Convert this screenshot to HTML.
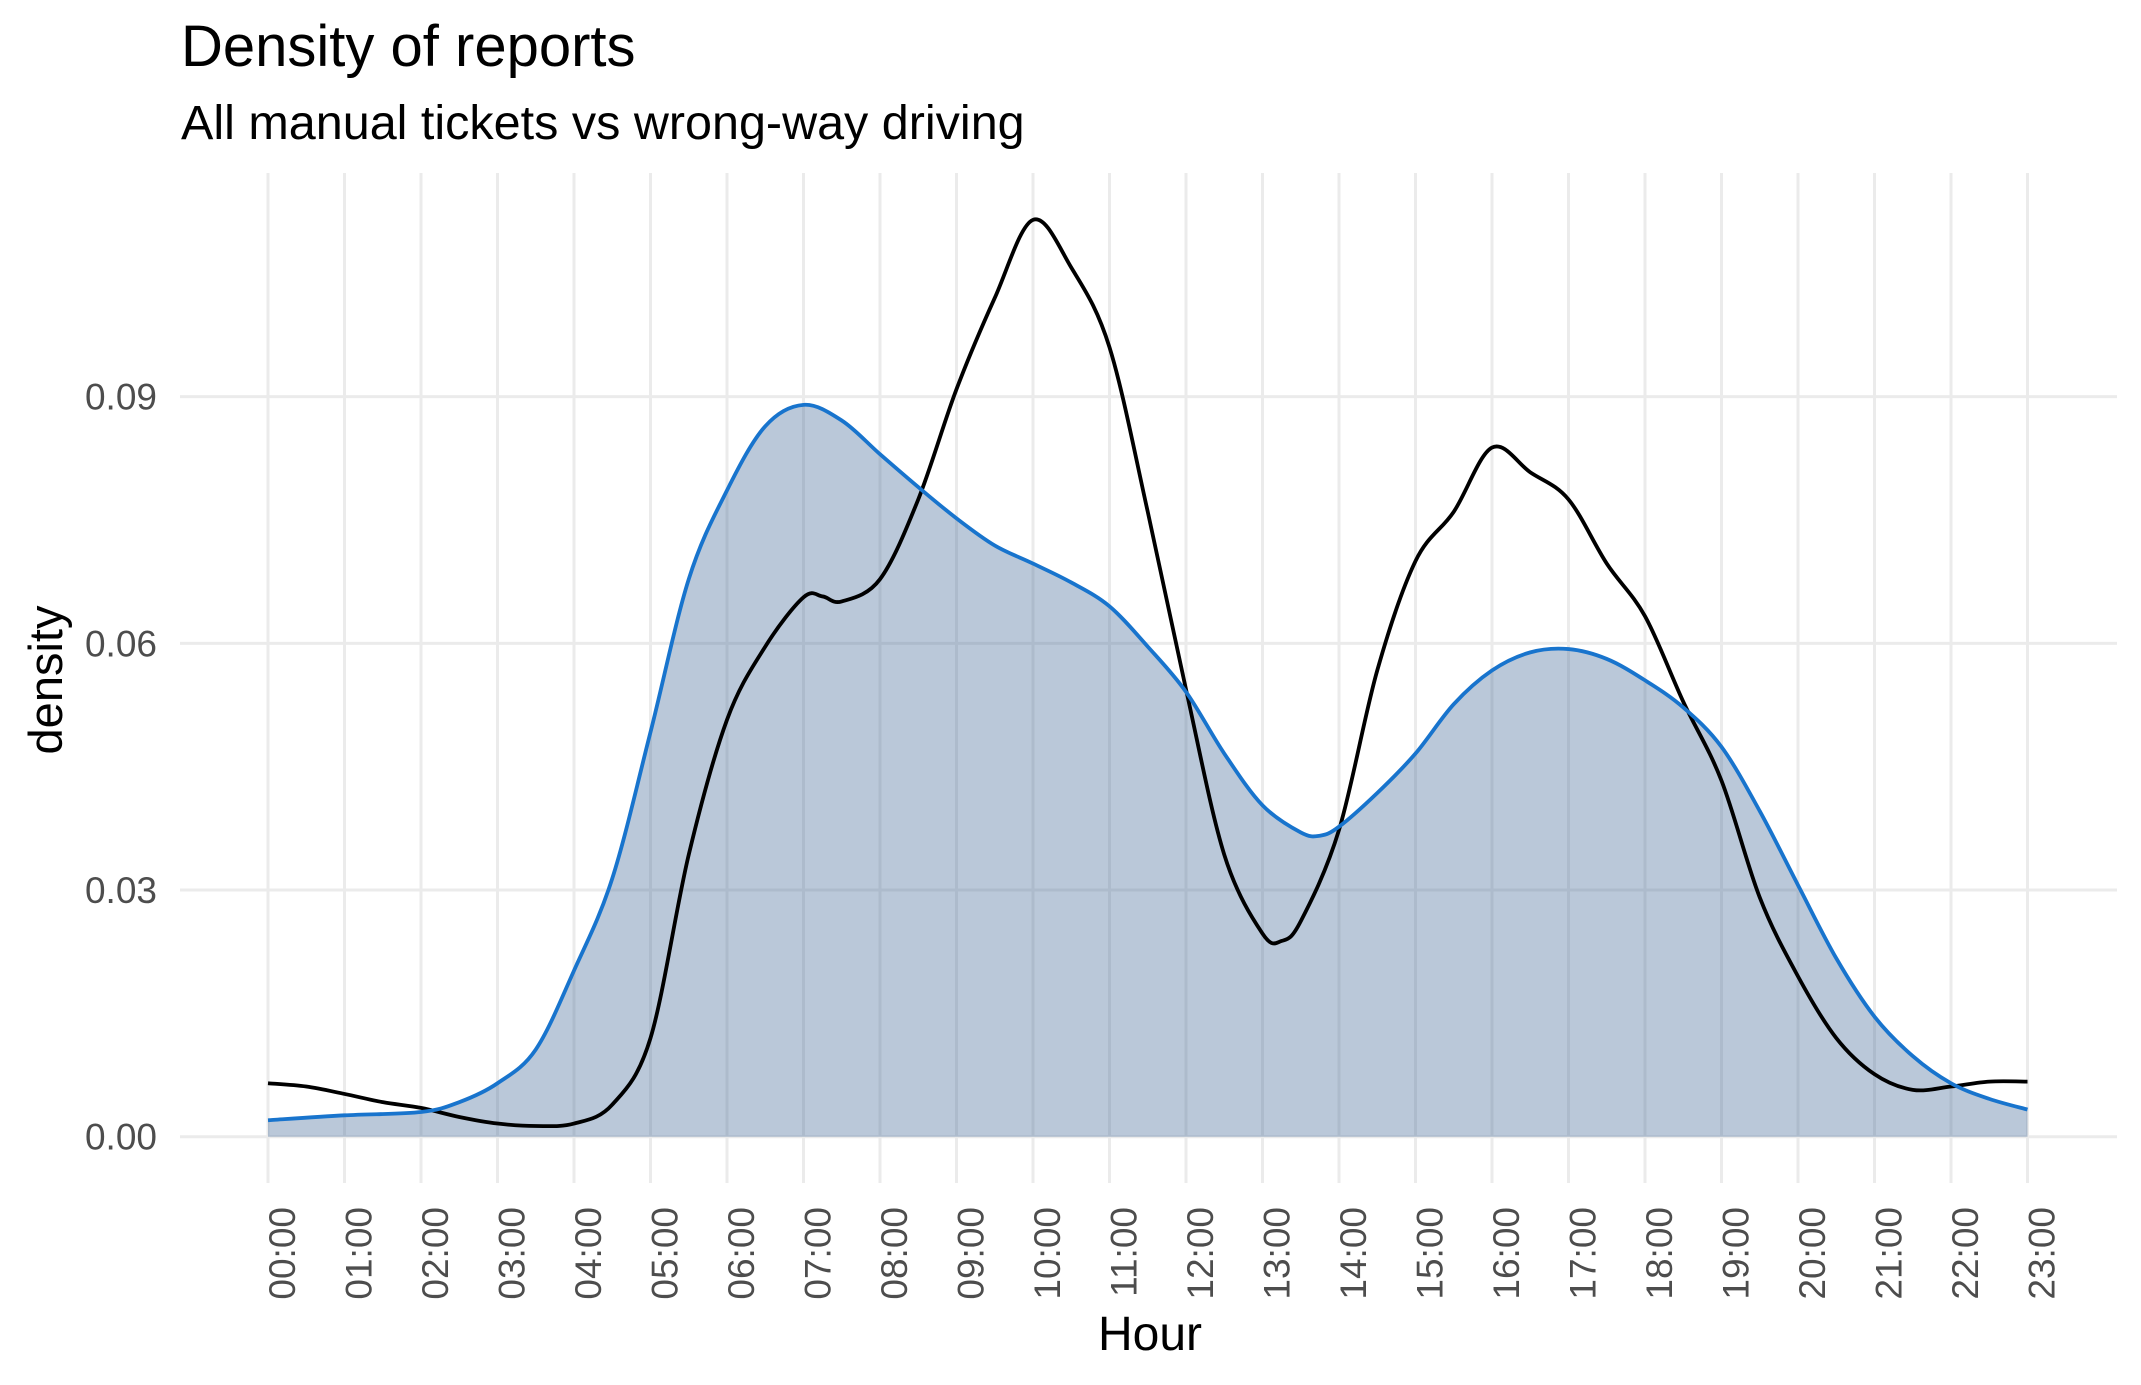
<!DOCTYPE html>
<html><head><meta charset="utf-8"><style>
html,body{margin:0;padding:0;background:#fff;}
svg{display:block;font-family:"Liberation Sans",Arial,sans-serif;}
</style></head><body>
<svg id="chart" width="2141" height="1385" viewBox="0 0 2141 1385" xmlns="http://www.w3.org/2000/svg">
<text x="181" y="66" font-size="58" fill="#000">Density of reports</text>
<text x="181" y="139" font-size="48.5" fill="#000">All manual tickets vs wrong-way driving</text>
<g id="grid"></g>
<g id="marks"></g>
<g id="axes"></g>
<text x="1150" y="1350" font-size="48" text-anchor="middle" fill="#000">Hour</text>
<text transform="translate(62,680) rotate(-90)" font-size="47" text-anchor="middle" fill="#000">density</text>
</svg>
<script>
const hoursBlue = [0,1,2,2.5,3,3.5,4,4.5,5,5.5,6,6.5,7,7.5,8,8.5,9,9.5,10,10.5,11,11.5,12,12.5,13,13.5,13.75,14,14.5,15,15.5,16,16.5,17,17.5,18,18.5,19,19.5,20,20.5,21,21.5,22,22.5,23];
const wrongWay = [.0020,.0026,.0030,.0042,.0065,.0106,.0202,.0314,.0492,.0678,.0786,.0864,.0890,.0871,.0830,.0790,.0752,.0719,.0697,.0674,.0645,.0596,.0541,.0466,.0403,.0370,.0366,.0377,.0418,.0466,.0526,.0567,.0589,.0593,.0581,.0555,.0522,.0474,.0396,.0306,.0217,.0146,.0098,.0065,.0046,.0033];
const hoursBlack = [0,0.5,1,1.5,2,2.5,3,3.5,4,4.5,5,5.5,6,6.5,7,7.25,7.5,8,8.5,9,9.5,10,10.5,11,11.5,12,12.5,13,13.25,13.5,14,14.5,15,15.5,16,16.5,17,17.5,18,18.5,19,19.5,20,20.5,21,21.5,22,22.5,23];
const allTickets = [.0065,.0061,.0052,.0042,.0035,.0024,.0016,.0013,.0016,.0039,.0120,.0343,.0507,.0596,.0656,.0657,.0651,.0678,.0775,.0909,.1020,.1115,.1057,.0960,.0760,.0544,.0343,.0247,.0238,.0262,.0373,.0567,.0700,.0760,.0838,.0808,.0775,.0697,.0633,.0529,.0433,.0291,.0195,.0120,.0076,.0057,.0061,.0067,.0067];
const yTicks = [0,0.03,0.06,0.09];
const yTickLabels = ["0.00","0.03","0.06","0.09"];
const xTicks = Array.from({length:24},(_,i)=>i);
const xTickLabels = xTicks.map(h=>(h<10?"0":"")+h+":00");

const NS="http://www.w3.org/2000/svg";
const X = h => 268 + 76.5*h;
const Y = v => 1136.7 - v*8223;
const PL=180, PR=2117, PT=173, PB=1183;
function mk(tag, attrs, parent){const e=document.createElementNS(NS,tag);for(const k in attrs)e.setAttribute(k,attrs[k]);parent.appendChild(e);return e;}
const grid=document.getElementById('grid'), marks=document.getElementById('marks'), axes=document.getElementById('axes');
yTicks.forEach((v,i)=>{
  const l=mk('line',{x1:PL,x2:PR,y1:Y(v),y2:Y(v),stroke:'#ebebeb','stroke-width':3},grid);
  
  
  const t=mk('text',{x:157,y:Y(v)+13,'font-size':37,'text-anchor':'end',fill:'#4d4d4d'},axes);
  t.textContent=yTickLabels[i];
  
  
});
xTicks.forEach((h,i)=>{
  const l=mk('line',{x1:X(h),x2:X(h),y1:PT,y2:PB,stroke:'#ebebeb','stroke-width':3},grid);
  
  
  const t=mk('text',{transform:`translate(${X(h)+14},1207) rotate(-90)`,'font-size':37,'text-anchor':'end',fill:'#4d4d4d'},axes);
  t.setAttribute('dy','0.35em');
  t.textContent=xTickLabels[i];
  
  
});
function smooth(xs,ys){
  const p=xs.map((h,i)=>[X(h),Y(ys[i])]);
  let d=`M${p[0][0]},${p[0][1]}`;
  for(let i=0;i<p.length-1;i++){
    const p0=p[Math.max(0,i-1)],p1=p[i],p2=p[i+1],p3=p[Math.min(p.length-1,i+2)];
    const c1=[p1[0]+(p2[0]-p0[0])/6,p1[1]+(p2[1]-p0[1])/6];
    const c2=[p2[0]-(p3[0]-p1[0])/6,p2[1]-(p3[1]-p1[1])/6];
    d+=`C${c1[0]},${c1[1]} ${c2[0]},${c2[1]} ${p2[0]},${p2[1]}`;
  }
  return d;
}
const bd=smooth(hoursBlue,wrongWay);
const area=mk('path',{d:bd+`L${X(hoursBlue[hoursBlue.length-1])},${Y(0)}L${X(hoursBlue[0])},${Y(0)}Z`,fill:'#4a6f9c','fill-opacity':0.38,stroke:'none'},marks);


const blk=mk('path',{d:smooth(hoursBlack,allTickets),fill:'none',stroke:'#000','stroke-width':3.8,'stroke-linejoin':'round'},marks);


const bl=mk('path',{d:bd,fill:'none',stroke:'#1874cd','stroke-width':3.8,'stroke-linejoin':'round'},marks);


</script>
</body></html>
